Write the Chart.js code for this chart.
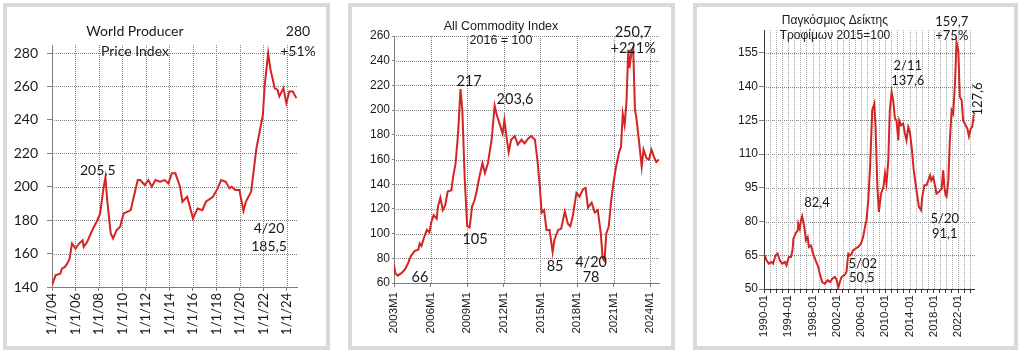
<!DOCTYPE html>
<html><head><meta charset="utf-8">
<script src="https://cdn.jsdelivr.net/npm/chart.js@4"></script>
<style>
body{margin:0;background:#fff;width:1024px;height:356px;position:relative;overflow:hidden}
.panel{position:absolute;top:3px;height:339px;border:4px solid #d9d9d9;background:#fff}
.panel canvas{position:absolute;left:0;top:0}
</style></head><body>
<div class="panel" style="left:3px;width:319px"><canvas id="c1" width="319" height="339"></canvas></div>
<div class="panel" style="left:348px;width:319px"><canvas id="c2" width="319" height="339"></canvas></div>
<div class="panel" style="left:693px;width:317px"><canvas id="c3" width="317" height="339"></canvas></div>
<script>
const ppiYears = [2004.0,2004.3,2004.7,2004.85,2005.1,2005.3,2005.5,2005.7,2006.0,2006.3,2006.6,2006.7,2007.0,2007.3,2007.5,2007.8,2008.1,2008.4,2008.55,2008.7,2009.0,2009.2,2009.5,2009.8,2010.1,2010.4,2010.7,2010.9,2011.3,2011.5,2011.9,2012.2,2012.5,2012.8,2013.2,2013.6,2013.9,2014.2,2014.5,2014.9,2015.1,2015.5,2015.7,2016.0,2016.4,2016.8,2017.1,2017.7,2018.1,2018.4,2018.8,2019.1,2019.3,2019.6,2019.95,2020.3,2020.5,2020.95,2021.4,2021.65,2021.95,2022.1,2022.4,2022.6,2022.8,2022.95,2023.2,2023.35,2023.7,2023.95,2024.2,2024.5,2024.8];
const ppiValues = [141,147,148,151,152,154,157,166,163,166,168,164,167,172,175,179,184,200,205.5,192,172,169,174,176,184,185,186,192,204,204,201,204,200,204,203,204,202,208,208,200,191,194,189,181,187,186,191,194,199,204,203,199,200,198,198,185.5,191,197,223,232,243,260,280,270,264,259,258,254,259,250,257,257,253];
const ppiTickYears = [2004,2006,2008,2010,2012,2014,2016,2018,2020,2022,2024];
const ppiTickLabels = ['1/1/04','1/1/06','1/1/08','1/1/10','1/1/12','1/1/14','1/1/16','1/1/18','1/1/20','1/1/22','1/1/24'];
const ppiNotes = [
  {text:'World Producer', x:2011.06, y:292.6},
  {text:'Price Index', x:2011.06, y:281.2},
  {text:'280', x:2024.94, y:292.6},
  {text:'+51%', x:2024.94, y:281.2},
  {text:'205,5', x:2007.9, y:210},
  {text:'4/20', x:2022.47, y:175.3},
  {text:'185,5', x:2022.47, y:164.5}
];

const cmdYears = [2003.0,2003.1,2003.3,2003.6,2003.9,2004.15,2004.4,2004.7,2005.0,2005.1,2005.25,2005.5,2005.7,2005.9,2006.05,2006.25,2006.5,2006.6,2006.8,2007.0,2007.2,2007.4,2007.7,2007.85,2008.05,2008.25,2008.45,2008.6,2008.8,2009.0,2009.2,2009.4,2009.6,2009.75,2010.0,2010.25,2010.45,2010.7,2011.0,2011.25,2011.45,2011.65,2011.9,2012.05,2012.25,2012.4,2012.6,2012.9,2013.15,2013.45,2013.7,2014.0,2014.25,2014.55,2014.75,2014.95,2015.1,2015.3,2015.5,2015.75,2016.0,2016.15,2016.45,2016.7,2017.0,2017.25,2017.45,2017.65,2017.95,2018.2,2018.5,2018.7,2018.9,2019.2,2019.45,2019.7,2019.95,2020.1,2020.25,2020.4,2020.6,2020.8,2021.0,2021.2,2021.45,2021.6,2021.75,2021.9,2022.05,2022.2,2022.3,2022.45,2022.6,2022.75,2022.85,2023.1,2023.3,2023.45,2023.7,2023.9,2024.1,2024.35,2024.5,2024.7];
const cmdValues = [75,68,66,68,71,76,82,86,87,92,90,98,103,101,109,115,112,122,129,119,123,134,135,146,157,181,217,200,143,106,105,122,127,133,146,157,149,157,176,203.6,195,189,181,192,176,166,176,179,172,176,173,177,179,176,160,138,117,119,103,103,85,95,103,104,118,108,106,114,133,130,136,137,121,125,117,119,100,80,78,100,106,127,142,154,166,170,197,188,206,249,234,246,250.7,200,195,173,154,168,161,160,168,161,158,160];
const cmdTickYears = [2003,2006,2009,2012,2015,2018,2021,2024];
const cmdTickLabels = ['2003M1','2006M1','2009M1','2012M1','2015M1','2018M1','2021M1','2024M1'];
const cmdNotes = [
  {text:'All Commodity Index', x:2011.77, y:267.3, font:'12.5px "Liberation Sans", Arial'},
  {text:'2016 = 100', x:2011.77, y:256, font:'12.5px "Liberation Sans", Arial'},
  {text:'217', x:2009.15, y:223.6},
  {text:'203,6', x:2012.92, y:209},
  {text:'250,7', x:2022.6, y:263.2},
  {text:'+221%', x:2022.6, y:250.3},
  {text:'105', x:2009.64, y:95.6},
  {text:'66', x:2005.13, y:64.9},
  {text:'85', x:2016.2, y:73.8},
  {text:'4/20', x:2019.15, y:77},
  {text:'78', x:2019.15, y:64.9}
];

const foodYears = [1990.15,1990.4,1990.8,1991.25,1991.5,1991.9,1992.25,1992.6,1993.0,1993.45,1993.7,1994.1,1994.45,1994.7,1994.85,1995.2,1995.55,1995.65,1995.9,1996.1,1996.3,1996.65,1996.9,1997.2,1997.4,1997.75,1998.1,1998.5,1998.95,1999.2,1999.6,2000.05,2000.5,2000.9,2001.25,2001.7,2002.0,2002.25,2002.5,2002.8,2003.25,2003.6,2003.9,2004.2,2004.45,2004.7,2005.1,2005.55,2006.0,2006.35,2006.65,2006.9,2007.2,2007.5,2007.85,2008.2,2008.4,2008.7,2008.95,2009.3,2009.7,2009.95,2010.2,2010.5,2010.75,2011.05,2011.3,2011.6,2011.85,2012.15,2012.3,2012.6,2012.95,2013.25,2013.5,2013.8,2014.05,2014.35,2014.7,2015.15,2015.55,2015.9,2016.1,2016.45,2016.8,2017.1,2017.4,2017.6,2017.9,2018.2,2018.45,2018.85,2019.3,2019.55,2019.75,2019.95,2020.1,2020.4,2020.65,2020.95,2021.2,2021.5,2021.75,2022.05,2022.3,2022.6,2022.85,2023.25,2023.55,2023.8,2024.1,2024.35,2024.6];
const foodValues = [65,62.8,61.3,62,61.3,65,65.7,62.8,61.3,62,60.5,64.2,64.2,67.2,72.4,74.6,76.1,79.1,76.8,80.6,82.4,77.6,71.7,73.1,68.7,69.4,65.7,62.8,59.8,56.8,53.1,52.4,53.9,53.1,54.6,55.4,53.9,50.5,53.1,55.4,56.1,57.6,65.7,65,65.7,67.2,68,68.7,70.2,73.1,77.6,80.6,89.5,104.3,129.5,132.5,122.1,95.4,84.3,92.4,95.4,101.3,96.9,107.2,129.5,137.6,133.9,125.8,125,116.1,125,122.8,123.6,119.1,116.1,122.1,119.9,113.2,102.8,93.9,86.5,85.0,90.9,96.1,96.1,98.3,100.6,98.3,99.8,96.1,92.4,93.2,94.6,102.8,95.4,91.7,91.1,98.3,116.1,129.5,128,141.4,159.7,156,135.4,133.9,125,122.8,121.3,117.9,121.3,122.1,127.6];
const foodTickLabels = ['1990-01','1994-01','1998-01','2002-01','2006-01','2010-01','2014-01','2018-01','2022-01'];
const foodNotes = [
  {text:'Παγκόσμιος Δείκτης', x:2001.7, y:169.2, font:'12px "Liberation Sans", Arial'},
  {text:'Τροφίμων 2015=100', x:2001.7, y:162.6, font:'12px "Liberation Sans", Arial'},
  {text:'159,7', x:2020.97, y:168.8},
  {text:'+75%', x:2020.97, y:162.6},
  {text:'2/11', x:2013.72, y:149.2},
  {text:'137,6', x:2013.72, y:142.5},
  {text:'82,4', x:1998.73, y:88.3},
  {text:'5/02', x:2006.3, y:61.1},
  {text:'50,5', x:2006.14, y:54.9},
  {text:'5/20', x:2019.82, y:81.1},
  {text:'91,1', x:2019.82, y:74.5},
  {text:'127,6', x:2025.26, y:134.5, rotate:true}
];

const RED = '#d42424';

// Dotted grid + axis lines drawn from the chart's own scales and ticks
const gridPlugin = {
  id: 'dotgrid',
  beforeDatasetsDraw(chart, args, o) {
    const {ctx, chartArea: a} = chart; const xs = chart.scales.x, ys = chart.scales.y;
    ctx.save();
    ctx.lineWidth = 1;
    ctx.setLineDash(o.dash);
    ctx.strokeStyle = o.hColor;
    ys.ticks.forEach(t => {
      const p = Math.round(ys.getPixelForValue(t.value)) + 0.5;
      ctx.beginPath(); ctx.moveTo(a.left, p); ctx.lineTo(a.right, p); ctx.stroke();
    });
    ctx.strokeStyle = o.vColor;
    xs.ticks.forEach(t => {
      const p = Math.round(xs.getPixelForValue(t.value)) + 0.5;
      ctx.beginPath(); ctx.moveTo(p, a.top); ctx.lineTo(p, a.bottom); ctx.stroke();
    });
    ctx.setLineDash([]);
    ctx.strokeStyle = o.axisColor;
    const L = Math.round(a.left) + 0.5, B = Math.round(a.bottom) + 0.5;
    ctx.beginPath(); ctx.moveTo(L, a.top); ctx.lineTo(L, B); ctx.lineTo(a.right, B); ctx.stroke();
    ctx.restore();
  }
};

const notesPlugin = {
  id: 'notes',
  afterDraw(chart, args, opts) {
    const {ctx} = chart; const xs = chart.scales.x, ys = chart.scales.y;
    ctx.save();
    ctx.fillStyle = '#1a1a1a'; ctx.textAlign = 'center'; ctx.textBaseline = 'middle';
    opts.items.forEach(n => {
      const px = xs.getPixelForValue(n.x), py = ys.getPixelForValue(n.y);
      ctx.font = n.font || opts.font;
      if (n.rotate) {
        ctx.save(); ctx.translate(px, py); ctx.rotate(-Math.PI / 2); ctx.fillText(n.text, 0, 0); ctx.restore();
      } else ctx.fillText(n.text, px, py);
    });
    ctx.restore();
  }
};

function build(id, o) {
  const data = o.xs.map((x, i) => ({x, y: o.ys[i]}));
  return new Chart(document.getElementById(id), {
    type: 'line',
    data: {datasets: [{data, borderColor: RED, borderWidth: 2, pointRadius: 0, tension: 0, fill: false}]},
    plugins: [gridPlugin, notesPlugin],
    options: {
      responsive: false, animation: false, devicePixelRatio: 1,
      layout: {padding: {top: o.padTop, right: o.padRight, bottom: 0, left: 0}},
      plugins: {legend: {display: false}, tooltip: {enabled: false},
        notes: {items: o.notes, font: o.noteFont},
        dotgrid: {dash: [1, 1], hColor: '#808080', vColor: o.vGridColor || '#808080', axisColor: o.axisColor}},
      scales: {
        x: {
          type: 'linear', min: o.xMin, max: o.xMax,
          afterBuildTicks: s => { s.ticks = o.xTicks.map(v => ({value: v})); },
          afterFit: s => { s.height = o.xH; },
          grid: {drawOnChartArea: false, drawTicks: true, tickLength: o.xTickLen, tickColor: o.xTickColor || '#808080'},
          border: {display: false},
          ticks: {autoSkip: false, minRotation: 90, maxRotation: 90, padding: o.xPad, color: '#1a1a1a', font: o.xFont,
            callback: (v, i) => o.xLabel(v, i)}
        },
        y: {
          min: o.yMin, max: o.yMax,
          afterBuildTicks: s => { s.ticks = o.yTicks.map(v => ({value: v})); },
          afterFit: s => { s.width = o.yW; },
          grid: {drawOnChartArea: false, drawTicks: true, tickLength: o.yTickLen, tickColor: '#808080'},
          border: {display: false},
          ticks: {padding: o.yPad, color: '#1a1a1a', font: o.yFont}
        }
      }
    }
  });
}

const lato = (s) => ({family: 'Lato', size: s});
const arial = (s) => ({family: '"Liberation Sans", Arial', size: s});

build('c1', {
  xs: ppiYears, ys: ppiValues, notes: ppiNotes, noteFont: '14px Lato',
  padTop: 38, padRight: 28, xH: 59, yW: 45,
  xMin: 2004, xMax: 2024.94, xTicks: ppiTickYears, xLabel: (v, i) => ppiTickLabels[i],
  yMin: 140, yMax: 284.8, yTicks: [140,160,180,200,220,240,260,280],
  xTickLen: 4, yTickLen: 5, xPad: 2, yPad: 9, axisColor: '#7a7a7a',
  xFont: lato(13), yFont: lato(14)
});

build('c2', {
  xs: cmdYears, ys: cmdValues, notes: cmdNotes, noteFont: '14.5px Lato',
  padTop: 29, padRight: 11, xH: 63, yW: 42,
  xMin: 2003, xMax: 2024.8, xTicks: cmdTickYears, xLabel: (v, i) => cmdTickLabels[i],
  yMin: 60, yMax: 260, yTicks: [60,80,100,120,140,160,180,200,220,240,260],
  xTickLen: 4, yTickLen: 2, xPad: 5, yPad: 2, axisColor: '#7a7a7a',
  xFont: arial(11.5), yFont: arial(12)
});

const foodTickYears = [];
for (let yr = 1990; yr <= 2024; yr++) foodTickYears.push(yr);
build('c3', {
  xs: foodYears, ys: foodValues, notes: foodNotes, noteFont: '13px Lato',
  padTop: 23, padRight: 39, xH: 57, yW: 67,
  xMin: 1990, xMax: 2024.8, xTicks: foodTickYears,
  xLabel: (v) => ((v - 1990) % 4 === 0 ? foodTickLabels[(v - 1990) / 4] : ''),
  yMin: 50, yMax: 165.2, yTicks: [50,65,80,95,110,125,140,155],
  xTickLen: 4, yTickLen: 5, xPad: 2, yPad: 1, axisColor: '#333',
  vGridColor: '#a8a8a8', xTickColor: '#333',
  xFont: arial(11.5), yFont: arial(12)
});
</script>
</body></html>
